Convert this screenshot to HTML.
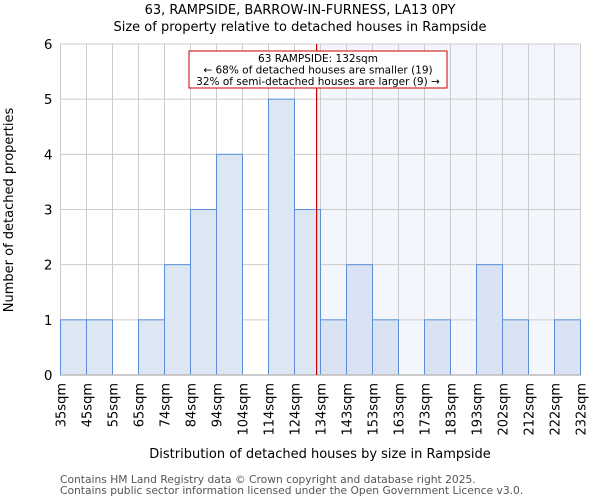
<!DOCTYPE html>
<html><head><meta charset="utf-8"><style>
body{margin:0;background:#fff;font-family:"DejaVu Sans","Liberation Sans",sans-serif;}
</style></head><body>
<svg id="chart" width="600" height="500" xmlns="http://www.w3.org/2000/svg" font-family="DejaVu Sans, Liberation Sans, sans-serif">
<text x="300" y="14" text-anchor="middle" font-size="13">63, RAMPSIDE, BARROW-IN-FURNESS, LA13 0PY</text>
<text x="300" y="31" text-anchor="middle" font-size="13">Size of property relative to detached houses in Rampside</text>
<g id="plot"></g>
<text x="320" y="458" text-anchor="middle" font-size="13">Distribution of detached houses by size in Rampside</text>
<text transform="translate(13,210) rotate(-90)" text-anchor="middle" font-size="13">Number of detached properties</text>
<text x="60" y="483" font-size="10.7" fill="#555">Contains HM Land Registry data © Crown copyright and database right 2025.</text>
<text x="60" y="494" font-size="10.7" fill="#555">Contains public sector information licensed under the Open Government Licence v3.0.</text>
</svg>
<script>
const tickLabels=["35sqm","45sqm","55sqm","65sqm","74sqm","84sqm","94sqm","104sqm","114sqm","124sqm","134sqm","143sqm","153sqm","163sqm","173sqm","183sqm","193sqm","202sqm","212sqm","222sqm","232sqm"];
const counts=[1,1,0,1,2,3,4,0,5,3,1,2,1,0,1,0,2,1,0,1];
const yTicks=[0,1,2,3,4,5,6];
const markerBin=9.85;
const NS="http://www.w3.org/2000/svg";
const g=document.getElementById('plot');
const x0=60.5,x1=580.5,y0=375,y1=44,yMax=6;
const bw=(x1-x0)/counts.length;
const X=i=>x0+i*bw;
const Y=v=>y0-(v/yMax)*(y0-y1);
function el(t,a){const e=document.createElementNS(NS,t);for(const k in a)e.setAttribute(k,a[k]);g.appendChild(e);return e;}
const mx=X(markerBin);
let r=el('rect',{x:mx,y:y1,width:x1-mx,height:y0-y1,fill:'#f3f6fd'});


yTicks.forEach(v=>{
 const l=el('line',{x1:x0,x2:x1,y1:Y(v),y2:Y(v),stroke:'#ccc','stroke-width':1});
 
 
 const t=el('text',{x:x0-8,y:Y(v)+5,'text-anchor':'end','font-size':13.5});
 t.textContent=v;
 
 
});
tickLabels.forEach((s,i)=>{
 const l=el('line',{x1:X(i),x2:X(i),y1:y1,y2:y0,stroke:'#ccc','stroke-width':1});
 
 
 const t=el('text',{transform:`translate(${X(i)+5},${y0+8}) rotate(-90)`,'text-anchor':'end','font-size':13});
 t.textContent=s;
 
 
});
counts.forEach((c,i)=>{
 if(c<=0)return;
 const b=el('rect',{x:X(i),y:Y(c),width:bw,height:y0-Y(c),fill:i>=10?'#dae3f3':'#dde7f4',stroke:'#5b8fd9','stroke-width':1});
 
 
});
const ax=el('line',{x1:x0,x2:x1,y1:y0,y2:y0,stroke:'#bbb','stroke-width':1.5});


const ml=el('line',{x1:mx,x2:mx,y1:y1,y2:y0,stroke:'#cc0000','stroke-width':1.2});


const box=el('rect',{x:189,y:51,width:258,height:37,fill:'#fff',stroke:'#cc0000','stroke-width':1});


["63 RAMPSIDE: 132sqm","← 68% of detached houses are smaller (19)","32% of semi-detached houses are larger (9) →"].forEach((s,i)=>{
 const t=el('text',{x:318,y:62+i*11.5,'text-anchor':'middle','font-size':10.5});
 t.textContent=s;
 
 
});
</script>
</body></html>
